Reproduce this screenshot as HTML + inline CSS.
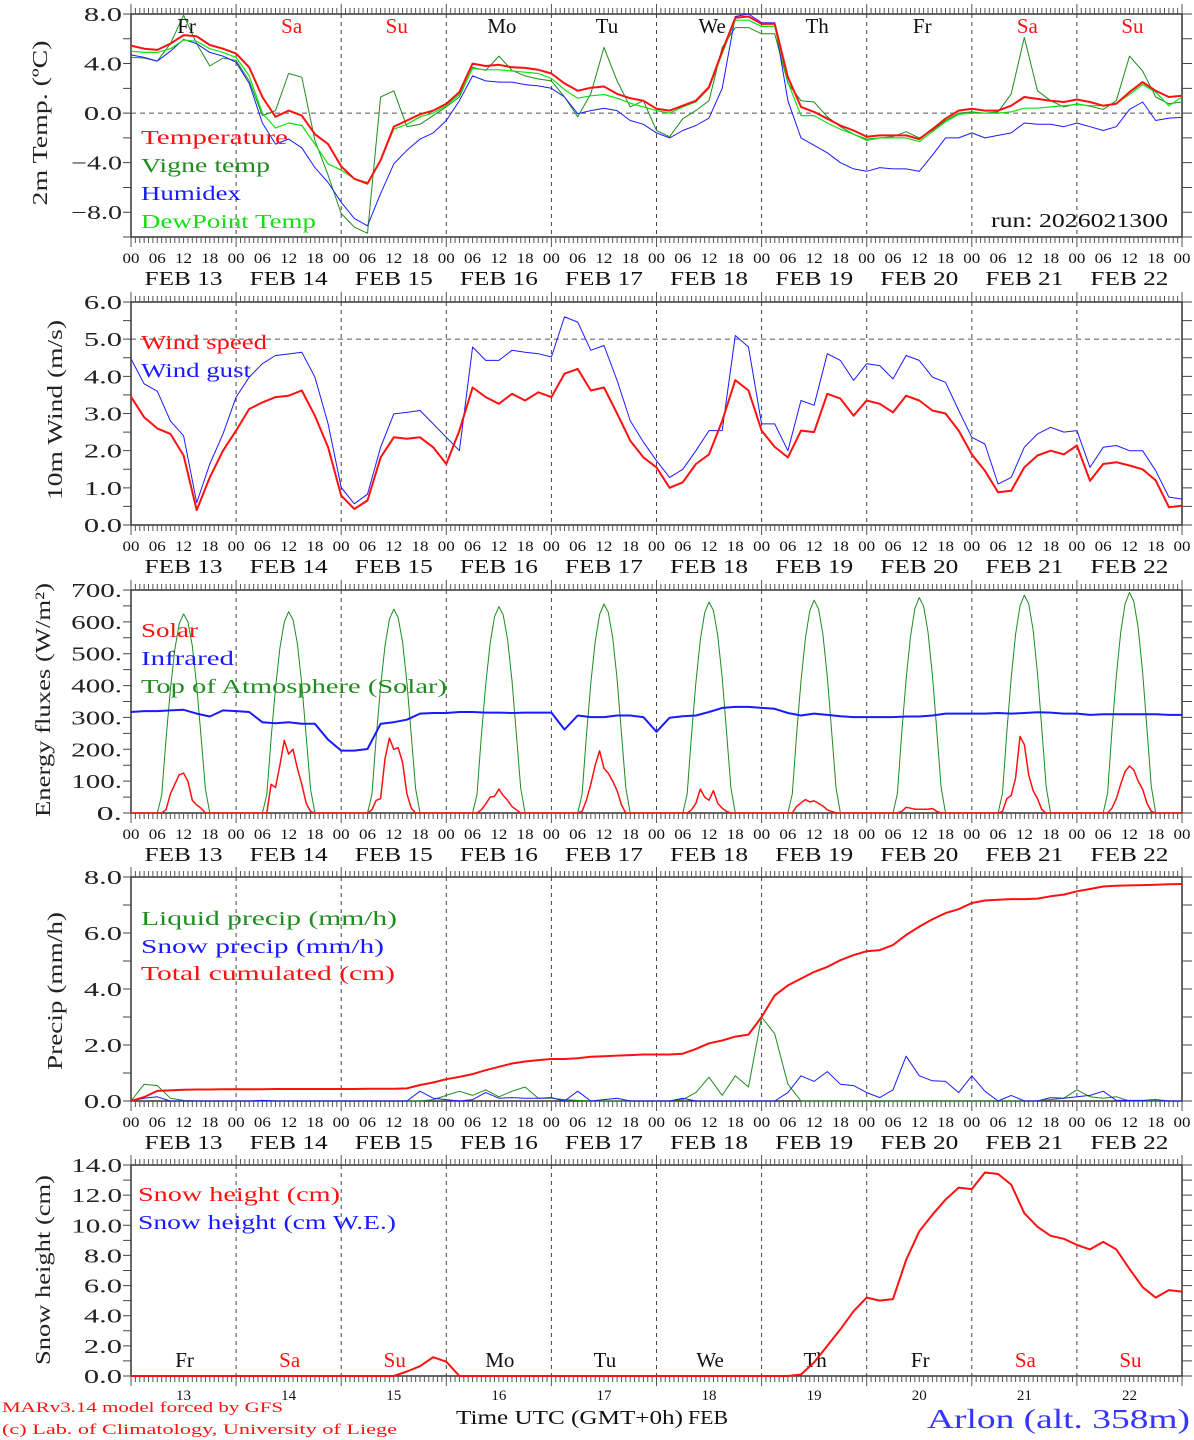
<!DOCTYPE html>
<html><head><meta charset="utf-8"><title>MARv3.14 Arlon forecast, 13–22 Feb</title>
<style>
html,body{margin:0;padding:0;background:#fff;}
svg{display:block;font-family:"Liberation Serif",serif;}
</style></head>
<body>
<svg id="chart" width="1194" height="1440" viewBox="0 0 1194 1440" xmlns="http://www.w3.org/2000/svg"></svg>
<script>
// ---------- DATA (3-hourly unless noted, 81 points from FEB 13 00 to FEB 23 00) ----------
const dayNames = ["Fr","Sa","Su","Mo","Tu","We","Th","Fr","Sa","Su"];
const dayNums = ["13","14","15","16","17","18","19","20","21","22"];
const hourLabels = ["00","06","12","18"];
const tempTicks = [8,4,0,-4,-8];
const windTicks = [0,1,2,3,4,5,6];
const fluxTicks = [0,100,200,300,400,500,600,700];
const precipTicks = [0,2,4,6,8];
const snowTicks = [0,2,4,6,8,10,12,14];

const temperature = [5.45,5.2,5.1,5.6,6.3,6.2,5.5,5.2, 4.8,3.7,1.3,-0.3,0.2,-0.2,-1.7,-2.5, -4.3,-5.3,-5.7,-3.8,-1.1,-0.6,-0.1,0.2, 0.75,1.7,4.0,3.8,3.9,3.7,3.65,3.5, 3.2,2.4,1.8,2.05,2.15,1.55,1.2,1.0, 0.35,0.2,0.6,1.0,2.1,5.0,7.7,7.8, 7.2,7.2,2.9,0.5,0.1,-0.45,-1.0,-1.4, -1.9,-1.8,-1.8,-1.8,-2.1,-1.3,-0.45,0.2, 0.35,0.2,0.2,0.6,1.3,1.15,1.0,0.9, 1.1,0.9,0.6,0.75,1.7,2.5,1.8,1.3, 1.4];
const vigneTemp = [4.5,4.45,4.2,5.6,7.9,5.6,3.8,4.45, 4.25,2.6,-0.2,0.2,3.2,2.9,-2.2,-5.0, -8.1,-9.2,-9.7,1.3,1.8,-1.1,-0.9,-0.2, 0.5,1.3,3.7,3.45,4.6,3.45,3.0,2.75, 2.6,1.3,-0.3,1.55,5.3,2.6,0.5,1.0, -1.4,-1.9,-0.45,0.2,1.0,5.3,6.9,6.9, 6.4,6.4,2.4,1.0,0.9,-0.3,-1.1,-1.7, -2.1,-2.0,-1.9,-1.5,-2.0,-1.4,-0.6,0.0, 0.1,0.0,0.1,1.55,6.1,1.8,1.0,0.5, 0.75,0.55,0.3,1.0,4.6,3.4,1.3,0.75, 0.9];
const humidex = [4.7,4.5,4.2,5.0,5.95,5.6,4.9,4.6, 4.1,2.4,-0.8,-2.5,-2.1,-2.8,-4.4,-5.6, -7.2,-8.5,-9.1,-6.5,-4.1,-3.0,-2.1,-1.6, -0.6,1.0,3.0,2.6,2.5,2.5,2.3,2.2, 2.0,1.3,-0.05,0.2,0.4,0.2,-0.6,-0.9, -1.6,-2.0,-1.4,-1.0,-0.4,2.0,7.8,8.0, 7.3,7.3,1.0,-2.0,-2.6,-3.2,-4.0,-4.5, -4.7,-4.4,-4.5,-4.5,-4.7,-3.4,-2.0,-2.0, -1.6,-2.0,-1.8,-1.6,-0.8,-0.9,-0.9,-1.1, -0.8,-1.1,-1.4,-1.1,0.3,0.9,-0.6,-0.4, -0.35];
const dewPoint = [5.0,4.9,4.9,5.2,5.9,5.8,5.2,4.9, 4.5,3.0,0.0,-1.2,-0.8,-1.0,-2.5,-4.1, -4.6,-5.3,-5.6,-3.8,-1.3,-0.9,-0.3,0.0, 0.6,1.5,3.6,3.5,3.5,3.4,3.3,3.2, 2.8,1.9,1.2,1.4,1.5,1.2,0.8,0.5, 0.2,0.0,0.5,0.9,2.0,4.8,7.5,7.5, 7.0,7.0,2.5,-0.2,-0.2,-0.8,-1.3,-1.7, -2.2,-2.0,-2.0,-2.0,-2.3,-1.5,-0.7,-0.1, 0.0,0.0,0.0,0.1,0.4,0.4,0.5,0.6, 0.7,0.6,0.6,0.8,1.5,2.3,1.7,0.6, 1.3];

const windSpeed = [3.45,2.9,2.6,2.45,1.87,0.4,1.28,2.0, 2.54,3.12,3.3,3.44,3.48,3.62,2.94,2.09, 0.79,0.43,0.66,1.82,2.36,2.32,2.36,2.09, 1.64,2.54,3.7,3.44,3.26,3.53,3.35,3.57, 3.44,4.07,4.2,3.62,3.7,3.0,2.27,1.82, 1.55,1.0,1.15,1.64,1.9,2.8,3.9,3.62, 2.54,2.1,1.82,2.54,2.5,3.53,3.4,2.94, 3.35,3.26,3.03,3.48,3.35,3.08,3.0,2.54, 1.9,1.46,0.88,0.92,1.55,1.87,2.0,1.9, 2.14,1.19,1.64,1.69,1.6,1.5,1.2,0.48, 0.52];
const windGust = [4.47,3.8,3.6,2.8,2.4,0.6,1.64,2.45, 3.44,3.98,4.34,4.56,4.6,4.65,3.98,2.72, 1.01,0.57,0.83,2.09,2.99,3.03,3.08,2.72, 2.36,2.0,4.79,4.43,4.43,4.7,4.65,4.61, 4.52,5.6,5.46,4.7,4.83,3.89,2.81,2.23, 1.73,1.28,1.5,2.0,2.54,2.54,5.1,4.79, 2.72,2.72,2.0,3.35,3.22,4.61,4.43,3.89, 4.34,4.29,3.93,4.56,4.43,3.98,3.84,3.08, 2.36,2.18,1.1,1.28,2.09,2.45,2.63,2.5, 2.54,1.55,2.09,2.14,2.0,2.0,1.46,0.75, 0.7];

// hourly (241 points)
const toaSolar = [
0,0,0,0,0,0,0,56,231,388,513,594,625,600,525,400,238,75,0,0,0,0,0,0,
0,0,0,0,0,0,0,57,234,392,518,600,632,607,531,404,240,76,0,0,0,0,0,0,
0,0,0,0,0,0,0,58,237,397,525,608,640,614,538,410,243,77,0,0,0,0,0,0,
0,0,0,0,0,0,0,58,240,402,531,616,648,622,544,415,246,78,0,0,0,0,0,0,
0,0,0,0,0,0,0,59,243,407,538,623,656,630,551,420,249,79,0,0,0,0,0,0,
0,0,0,0,0,0,0,60,245,410,543,629,662,636,556,424,252,79,0,0,0,0,0,0,
0,0,0,0,0,0,0,60,247,414,548,635,668,641,561,428,254,80,0,0,0,0,0,0,
0,0,0,0,0,0,0,61,250,419,554,642,676,649,568,433,257,81,0,0,0,0,0,0,
0,0,0,0,0,0,0,62,253,424,561,650,684,657,575,438,260,82,0,0,0,0,0,0,
0,0,0,0,0,0,0,62,256,429,567,657,692,664,581,443,263,83,0,0,0,0,0,0,
0];
const solar = [
0,0,0,0,0,0,0,0,10,60,90,120,125,100,40,25,15,0,0,0,0,0,0,0,
0,0,0,0,0,0,0,0,90,80,150,228,185,200,140,90,30,5,0,0,0,0,0,0,
0,0,0,0,0,0,0,10,40,45,170,235,200,205,160,60,15,0,0,0,0,0,0,0,
0,0,0,0,0,0,0,0,10,28,50,52,75,55,40,20,10,0,0,0,0,0,0,0,
0,0,0,0,0,0,0,5,40,90,150,195,140,125,100,70,25,0,0,0,0,0,0,0,
0,0,0,0,0,0,0,0,10,30,75,50,40,70,30,15,5,0,0,0,0,0,0,0,
0,0,0,0,0,0,0,0,20,32,42,35,38,30,22,10,5,0,0,0,0,0,0,0,
0,0,0,0,0,0,0,0,5,18,15,12,12,12,12,14,5,0,0,0,0,0,0,0,
0,0,0,0,0,0,0,5,45,55,110,240,215,120,70,45,10,0,0,0,0,0,0,0,
0,0,0,0,0,0,0,0,15,45,90,130,148,135,100,75,30,5,0,0,0,0,0,0,
0];
// 3-hourly
const infrared = [317,320,320,322,324,312,303,322, 320,317,285,282,285,280,280,230, 196,196,201,280,285,293,312,314, 314,317,317,315,315,314,315,315, 315,262,306,301,301,306,306,301, 255,299,304,306,317,330,333,333, 330,327,314,306,312,308,304,301, 301,301,301,303,303,306,312,312, 312,312,314,312,314,316,315,312, 312,308,310,310,310,310,310,308, 308];

const liquidPrecip = [0,0.6,0.55,0.1,0.02,0,0,0, 0,0,0,0,0,0,0,0, 0,0,0,0,0,0,0,0.05, 0.2,0.35,0.2,0.4,0.15,0.35,0.5,0.1, 0.1,0.05,0.02,0,0,0,0,0, 0,0,0.05,0.3,0.85,0.2,0.9,0.5, 3.0,2.4,0.6,0,0,0,0,0, 0,0,0,0,0,0,0,0, 0,0,0,0,0,0,0.05,0.1, 0.4,0.15,0.1,0.15,0,0,0,0, 0];
const snowPrecip = [0,0.1,0.15,0,0,0,0,0, 0,0,0.02,0,0,0,0,0, 0,0,0,0,0,0,0.35,0.1, 0.05,0,0.05,0.3,0.1,0.12,0.1,0.1, 0.12,0,0.35,0,0.05,0.1,0,0, 0,0,0.1,0,0,0,0,0, 0,0,0.3,0.9,0.7,1.05,0.6,0.55, 0.3,0.12,0.4,1.6,0.9,0.72,0.7,0.3, 0.9,0.35,0,0.2,0,0,0.12,0.1, 0.15,0.2,0.35,0.02,0.02,0.02,0.05,0, 0];
const totalCumul = [0,0.14,0.36,0.38,0.4,0.41,0.41,0.42, 0.42,0.42,0.42,0.43,0.43,0.43,0.43,0.43, 0.43,0.43,0.44,0.44,0.44,0.45,0.57,0.66, 0.78,0.86,0.96,1.1,1.22,1.34,1.41,1.46, 1.5,1.5,1.53,1.58,1.6,1.62,1.64,1.66, 1.66,1.66,1.69,1.86,2.06,2.16,2.3,2.37, 3.0,3.77,4.13,4.37,4.61,4.79,5.03,5.21, 5.35,5.39,5.57,5.93,6.23,6.49,6.71,6.85, 7.07,7.16,7.19,7.21,7.21,7.23,7.31,7.37, 7.49,7.57,7.66,7.69,7.7,7.71,7.72,7.74, 7.75];
const snowHeight = [0,0,0,0,0,0,0,0, 0,0,0,0,0,0,0,0, 0,0,0,0,0,0.3,0.65,1.25, 0.95,0,0,0,0,0,0,0, 0,0,0,0,0,0,0,0, 0,0,0,0,0,0,0,0, 0,0,0,0.1,0.9,2.0,3.1,4.3, 5.2,5.0,5.1,7.7,9.6,10.7,11.7,12.5, 12.4,13.5,13.4,12.7,10.8,9.9,9.3,9.1, 8.7,8.4,8.9,8.4,7.1,5.9,5.2,5.7, 5.6];

// ---------- RENDER ----------
const NS = "http://www.w3.org/2000/svg";
const svg = document.getElementById("chart");
const X0 = 131, X1 = 1182, HOURS = 240;
function xOf(h){ return X0 + h*(X1-X0)/HOURS; }
function mk(tag, attrs, parent){
  const e = document.createElementNS(NS, tag);
  for (const k in attrs) e.setAttribute(k, attrs[k]);
  (parent||svg).appendChild(e);
  return e;
}
function txt(str, attrs, parent){ const t = mk("text", attrs, parent); t.textContent = str; return t; }

const panels = [
  {name:"temperature", top:14, bottom:237, min:-10, max:8, ticks:tempTicks, minor:2, fmt:v=>v.toFixed(1), title:"2m Temp. (ºC)", tlen:165, tx:47, cy:123, hourRow:true, zeroLine:0},
  {name:"wind", top:302, bottom:525, min:0, max:6, ticks:windTicks, minor:0.5, fmt:v=>v.toFixed(1), title:"10m Wind (m/s)", tlen:180, tx:62, cy:410, hourRow:true, zeroLine:5},
  {name:"energy", top:590, bottom:813, min:0, max:700, ticks:fluxTicks, minor:50, fmt:v=>v+".", title:"Energy fluxes (W/m²)", tlen:234, tx:50, cy:700, hourRow:true},
  {name:"precip", top:877, bottom:1101, min:0, max:8, ticks:precipTicks, minor:1, fmt:v=>v.toFixed(1), title:"Precip (mm/h)", tlen:158, tx:62, cy:991, hourRow:true},
  {name:"snow", top:1165, bottom:1376, min:0, max:14, ticks:snowTicks, minor:1, fmt:v=>v.toFixed(1), title:"Snow height (cm)", tlen:190, tx:50, cy:1270, hourRow:false}
];
function yScale(p){ return v => p.bottom - (v-p.min)*(p.bottom-p.top)/(p.max-p.min); }

panels.forEach((p, pi) => {
  const g = mk("g", {});
  
  
  const y = yScale(p);
  for (let d=1; d<10; d++){
    const l = mk("line", {x1:xOf(d*24), x2:xOf(d*24), y1:p.top, y2:p.bottom, stroke:"#444", "stroke-width":1, "stroke-dasharray":"4,4"}, g);
    
    
  }
  if (p.zeroLine !== undefined){
    const l = mk("line", {x1:X0, x2:X1, y1:y(p.zeroLine), y2:y(p.zeroLine), stroke:"#555", "stroke-width":1, "stroke-dasharray":"5,4"}, g);
    
    
  }
  const fr = mk("rect", {x:X0, y:p.top, width:X1-X0, height:p.bottom-p.top, fill:"none", stroke:"#333", "stroke-width":1.5}, g);
  
  
  let d = "";
  for (let h=0; h<=HOURS; h++){
    const len = (h%24===0) ? 10 : 6;
    d += `M${xOf(h)} ${p.top}v${-len}M${xOf(h)} ${p.bottom}v${len}`;
  }
  const tk = mk("path", {d:d, stroke:"#555", "stroke-width":1, fill:"none"}, g);
  
  
  let yd = "";
  for (let v=p.min; v<=p.max+1e-9; v+=p.minor){
    yd += `M${X0-8} ${y(v)}h8M${X1} ${y(v)}h10`;
  }
  mk("path", {d:yd, stroke:"#444", "stroke-width":1, fill:"none"}, g);
  p.ticks.forEach(v => {
    const s = p.fmt(v).replace("-", "−");
    const t = txt(s, {x:122, y:y(v)+7, "font-size":20, "text-anchor":"end", fill:"#222", textLength:s.length*12.7, lengthAdjust:"spacingAndGlyphs"}, g);
    
    
  });
  const ti = txt(p.title, {x:p.tx, y:p.cy, "font-size":21, "text-anchor":"middle", fill:"#222", textLength:p.tlen, lengthAdjust:"spacingAndGlyphs", transform:`rotate(-90 ${p.tx} ${p.cy})`}, g);
  
  
  if (p.hourRow){
    for (let dd=0; dd<10; dd++){
      hourLabels.forEach((lab, i) => {
        const t = txt(lab, {x:xOf(dd*24+i*6), y:p.bottom+26, "font-size":15, "text-anchor":"middle", fill:"#111", textLength:17, lengthAdjust:"spacingAndGlyphs"}, g);
        
        
      });
      const f = txt("FEB " + dayNums[dd], {x:xOf(dd*24+12), y:p.bottom+48, "font-size":20, "text-anchor":"middle", fill:"#111", textLength:78, lengthAdjust:"spacingAndGlyphs"}, g);
      
      
    }
    const t = txt("00", {x:X1, y:p.bottom+26, "font-size":15, "text-anchor":"middle", fill:"#111", textLength:17, lengthAdjust:"spacingAndGlyphs"}, g);
    
    
  }
  p.g = g; p.y = y;
});

function series(p, vals, stepH, color, width, name){
  let d = "";
  vals.forEach((v,i) => { d += (i?"L":"M") + xOf(i*stepH).toFixed(1) + " " + p.y(v).toFixed(1); });
  const path = mk("path", {d:d, fill:"none", stroke:color, "stroke-width":width, "stroke-linejoin":"round"}, p.g);
  
  
  return path;
}
function legend(p, x, yb, str, len, color, name){
  const t = txt(str, {x:x, y:yb, "font-size":20, fill:color, textLength:len, lengthAdjust:"spacingAndGlyphs"}, p.g);
  
  
}
const RED="#ff1010", DG="#1e8c1e", BL="#1a1aff", LG="#10e010";
const [P1,P2,P3,P4,P5] = panels;

series(P1, vigneTemp, 3, DG, 1, "vigne-temp-line");
series(P1, humidex, 3, BL, 1, "humidex-line");
series(P1, dewPoint, 3, LG, 1.2, "dewpoint-line");
series(P1, temperature, 3, RED, 2, "temperature-line");
legend(P1, 141, 144, "Temperature", 147, RED, "legend-temperature");
legend(P1, 141, 172, "Vigne temp", 129, DG, "legend-vigne-temp");
legend(P1, 141, 200, "Humidex", 100, BL, "legend-humidex");
legend(P1, 141, 228, "DewPoint Temp", 175, LG, "legend-dewpoint");
const run = txt("run: 2026021300", {x:1168, y:227, "font-size":20, "text-anchor":"end", fill:"#111", textLength:177, lengthAdjust:"spacingAndGlyphs"}, P1.g);


for (let dd=0; dd<10; dd++){
  const wk = (dayNames[dd]==="Sa"||dayNames[dd]==="Su");
  const t = txt(dayNames[dd], {x:xOf(dd*24+12)+3, y:33, "font-size":21, "text-anchor":"middle", fill:wk?RED:"#111"}, P1.g);
  
  
}

series(P2, windGust, 3, BL, 1, "wind-gust-line");
series(P2, windSpeed, 3, RED, 2, "wind-speed-line");
legend(P2, 141, 349, "Wind speed", 126, RED, "legend-wind-speed");
legend(P2, 141, 377, "Wind gust", 110, BL, "legend-wind-gust");

series(P3, toaSolar, 1, DG, 1, "toa-solar-line");
series(P3, infrared, 3, BL, 2, "infrared-line");
series(P3, solar, 1, RED, 1.5, "solar-line");
legend(P3, 141, 637, "Solar", 57, RED, "legend-solar");
legend(P3, 141, 665, "Infrared", 93, BL, "legend-infrared");
legend(P3, 141, 693, "Top of Atmosphere (Solar)", 306, DG, "legend-toa");

series(P4, liquidPrecip, 3, DG, 1, "liquid-precip-line");
series(P4, snowPrecip, 3, BL, 1, "snow-precip-line");
series(P4, totalCumul, 3, RED, 2, "total-cumulated-line");
legend(P4, 141, 925, "Liquid precip (mm/h)", 256, DG, "legend-liquid-precip");
legend(P4, 141, 953, "Snow precip (mm/h)", 243, BL, "legend-snow-precip");
legend(P4, 141, 980, "Total cumulated (cm)", 254, RED, "legend-total-cumulated");

for (let dd=0; dd<10; dd++){
  const wk = (dayNames[dd]==="Sa"||dayNames[dd]==="Su");
  const t = txt(dayNames[dd], {x:xOf(dd*24+12)+1, y:1367, "font-size":21, "text-anchor":"middle", fill:wk?RED:"#111"}, P5.g);
  
  
  const n = txt(dayNums[dd], {x:xOf(dd*24+12), y:1400, "font-size":15, "text-anchor":"middle", fill:"#111"}, P5.g);
  
  
}
series(P5, snowHeight, 3, RED, 2, "snow-height-line");
legend(P5, 138, 1201, "Snow height (cm)", 202, RED, "legend-snow-height");
legend(P5, 138, 1229, "Snow height (cm W.E.)", 258, BL, "legend-snow-we");

const f1 = txt("MARv3.14 model forced by GFS", {x:2, y:1412, "font-size":15, fill:RED, textLength:281, lengthAdjust:"spacingAndGlyphs"});


const f2 = txt("(c) Lab. of Climatology, University of Liege", {x:2, y:1434, "font-size":15, fill:RED, textLength:395, lengthAdjust:"spacingAndGlyphs"});


const xt = txt("Time UTC (GMT+0h)", {x:456, y:1424, "font-size":20, fill:"#111", textLength:227, lengthAdjust:"spacingAndGlyphs"});


const fb = txt("FEB", {x:688, y:1424, "font-size":20, fill:"#111", textLength:40, lengthAdjust:"spacingAndGlyphs"});


const st = txt("Arlon (alt. 358m)", {x:927, y:1428, "font-size":27, fill:"#3535ff", textLength:263, lengthAdjust:"spacingAndGlyphs"});


</script>
</body></html>
